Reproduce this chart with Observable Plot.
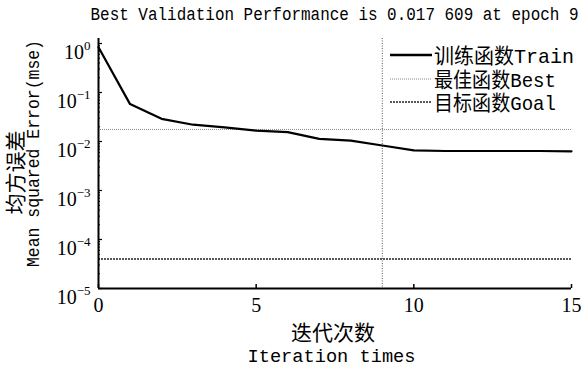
<!DOCTYPE html>
<html><head><meta charset="utf-8">
<script src="https://cdn.jsdelivr.net/npm/d3@7"></script>
<script src="https://cdn.jsdelivr.net/npm/@observablehq/plot@0.6"></script>
<style>body{margin:0;background:#fff} svg{display:block}</style>
</head><body><div id="chart"></div>
<script>
// ---- data ----
const epochs   = [0, 1, 2, 3, 4, 5, 6, 7, 8, 9, 10, 11, 12, 13, 14, 15];
const trainMse = [0.84, 0.058, 0.029, 0.022, 0.0195, 0.0166, 0.0155, 0.0113, 0.0104, 0.0083, 0.0066, 0.0064, 0.0064, 0.0064, 0.0064, 0.0063];
const bestMse = 0.017609;
const bestEpoch = 9;
const goalMse = 4e-5;
const yTicks = [1, 0.1, 0.01, 1e-3, 1e-4, 1e-5];
const xTicks = [0, 5, 10, 15];
const legendLabels = ["训练函数Train", "最佳函数Best", "目标函数Goal"];
const titleText = "Best Validation Performance is 0.017 609 at epoch 9";
const xLabelCn = "迭代次数", xLabelEn = "Iteration times";
const yLabelCn = "均方误差", yLabelEn = "Mean squared Error(mse)";

// ---- layout ----
const W = 583, H = 368, mL = 98, mR = 12, mT = 38, mB = 80;
const fw = W - mL - mR, fh = H - mT - mB;
const yTop = Math.pow(10, 5 / 49);
const mono = "'Liberation Mono', 'Noto Sans CJK SC', monospace";
const serif = "'Liberation Serif', serif";
const cjk = "'Noto Sans CJK SC', sans-serif";
const minorTicks = yTicks.slice(1).flatMap(t => d3.range(2, 10).map(m => m * t));

const rows = epochs.map((e, i) => ({epoch: e, mse: trainMse[i]}));

const plot = Plot.plot({
  width: W, height: H,
  marginLeft: mL, marginRight: mR, marginTop: mT, marginBottom: mB,
  style: {background: "#fff", color: "#000"},
  x: {domain: [0, 15]},
  y: {type: "log", domain: [1e-5, yTop]},
  marks: [
    Plot.axisX(xTicks, {tickSize: 0, tickPadding: 9, fontSize: 20, fontFamily: serif, label: null, fill: "#000"}),
    Plot.axisY(yTicks, {tickSize: 0, tickPadding: 8, fontSize: 20, fontFamily: serif, label: null, fill: "#000",
      tickFormat: d => "10|" + Math.round(Math.log10(d))}),
    Plot.tickY(yTicks, {y: d => d, insetRight: fw - 4, stroke: "#000", strokeWidth: 1.2}),
    Plot.tickY(minorTicks, {y: d => d, insetRight: fw - 2, stroke: "#000", strokeWidth: 1}),
    Plot.tickX(xTicks, {x: d => d, insetTop: fh - 4, stroke: "#000", strokeWidth: 1.5}),
    Plot.ruleY([goalMse], {stroke: "#222", strokeWidth: 1.6, strokeDasharray: "2,1"}),
    Plot.ruleY([bestMse], {stroke: "#888", strokeWidth: 1, strokeDasharray: "1,1"}),
    Plot.ruleX([bestEpoch], {stroke: "#555", strokeWidth: 1, strokeDasharray: "1,1.5"}),
    Plot.line(rows, {x: "epoch", y: "mse", stroke: "#000", strokeWidth: 2.2}),
    Plot.ruleX([0], {stroke: "#000", strokeWidth: 2}),
    Plot.ruleY([1e-5], {stroke: "#000", strokeWidth: 2}),
    Plot.text([xLabelCn], {frameAnchor: "bottom", dx: -2, dy: 45, fontSize: 21, fontFamily: cjk, fill: "#000", lineAnchor: "middle"}),
    Plot.text([yLabelCn], {frameAnchor: "left", dx: -82, dy: 9, rotate: -90, fontSize: 21, fontFamily: cjk, fill: "#000", lineAnchor: "middle", textAnchor: "middle"})
  ]
});

const svg = d3.select(plot);

// superscript exponents on y tick labels
svg.selectAll('g[aria-label="y-axis tick label"] text').each(function() {
  const s = this.textContent;
  if (!s.includes("|")) return;
  const [b, e] = s.split("|");
  const t = d3.select(this);
  t.text(b).attr("dy", "0.45em").attr("font-size", 20);
  t.append("tspan").attr("font-size", 13).attr("dy", "-0.7em").text(e.replace("-", "\u2212"));
});

// Latin texts in narrow (half-width) glyphs, like the original's font
function narrowText(str, cx, cy, size, width, rot) {
  const sx = width / (str.length * 0.6 * size);
  svg.append("text")
    .attr("transform", `translate(${cx},${cy}) rotate(${rot || 0}) scale(${sx},1)`)
    .attr("font-family", mono).attr("font-size", size).attr("fill", "#000")
    .attr("text-anchor", "middle").attr("dy", "0.36em").text(str);
}
narrowText(titleText, mL + fw / 2, 14, 18, 488);
narrowText(xLabelEn, mL + fw / 2 - 3, 355, 19, 168);
narrowText(yLabelEn, 32, 153.5, 19, 227, -90);

// legend
const lg = svg.append("g").attr("font-family", mono).attr("font-size", 21).attr("text-anchor", "start");
const styles = [
  {stroke: "#000", width: 2.5, dash: null},
  {stroke: "#888", width: 1, dash: "1,1"},
  {stroke: "#222", width: 1.6, dash: "2,1"}
];
const rowY = [55, 79, 102];
const legendW = [140, 122, 122];
legendLabels.forEach((lab, i) => {
  lg.append("line").attr("x1", 390).attr("x2", 432).attr("y1", rowY[i]).attr("y2", rowY[i])
    .attr("stroke", styles[i].stroke).attr("stroke-width", styles[i].width)
    .attr("stroke-dasharray", styles[i].dash);
  lg.append("text").attr("x", 434).attr("y", rowY[i]).attr("dy", "0.36em").attr("fill", "#000")
    .attr("text-anchor", "start").attr("textLength", legendW[i]).attr("lengthAdjust", "spacingAndGlyphs").text(lab);
});

document.getElementById("chart").append(plot);
</script>
</body></html>
